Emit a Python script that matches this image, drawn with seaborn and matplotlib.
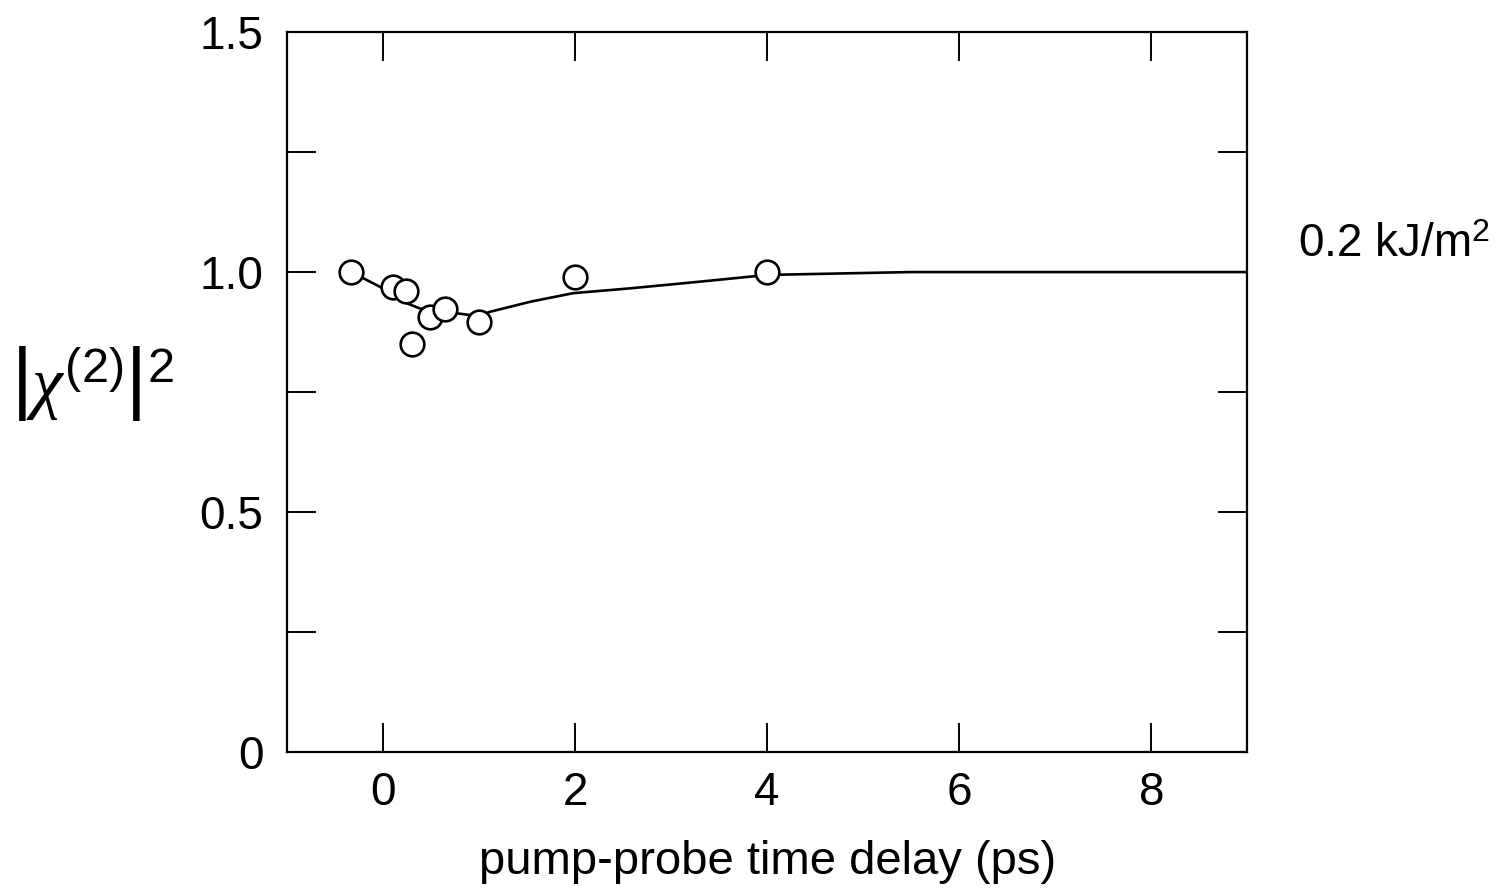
import numpy as np
import pandas as pd
import matplotlib
matplotlib.use('Agg')
import matplotlib.pyplot as plt
import seaborn as sns

# measured points (open circles)
delay_ps = [-0.33, 0.10, 0.24, 0.305, 0.49, 0.65, 1.0, 2.0, 4.0]
chi2_sq = [1.0, 0.969, 0.961, 0.851, 0.907, 0.924, 0.896, 0.99, 1.0]

# fitted curve
fit_x = [-0.33, -0.03, 0.21, 0.385, 0.77, 1.0, 1.11, 1.53, 1.98, 2.57, 3.3, 4.0, 5.5, 9.0]
fit_y = [1.0, 0.969, 0.938, 0.924, 0.914, 0.908, 0.917, 0.938, 0.956, 0.966, 0.98, 0.994, 1.0, 1.0]

yticks = [0, 0.25, 0.5, 0.75, 1.0, 1.25, 1.5]
ytick_labels = ['0', '', '0.5', '', '1.0', '', '1.5']
xticks = [0, 2, 4, 6, 8]

sns.set_style('white')
plt.rcParams['font.family'] = ['Liberation Sans', 'DejaVu Sans']
plt.rcParams['text.color'] = 'black'
plt.rcParams['mathtext.fontset'] = 'custom'
plt.rcParams['mathtext.rm'] = 'Liberation Sans'
plt.rcParams['mathtext.it'] = 'Liberation Serif:italic'

fig = plt.figure(figsize=(14.97, 8.91), dpi=100)
ax = fig.add_axes([0.1917, 0.156, 0.6416, 0.808])

df_fit = pd.DataFrame({'x': fit_x, 'y': fit_y})
df_pts = pd.DataFrame({'x': delay_ps, 'y': chi2_sq})

sns.lineplot(data=df_fit, x='x', y='y', ax=ax, color='black', linewidth=1.9, zorder=2)
sns.scatterplot(data=df_pts, x='x', y='y', ax=ax, marker='o', s=290,
                facecolor='white', edgecolor='black', linewidth=1.9, zorder=3)

ax.set_xlim(-1, 9)
ax.set_ylim(0, 1.5)
ax.set_xticks(xticks)
ax.set_xticklabels([str(t) for t in xticks])
ax.set_yticks(yticks)
ax.set_yticklabels(ytick_labels)
ax.tick_params(axis='x', pad=14)
ax.tick_params(axis='y', pad=17)
ax.tick_params(axis='both', which='major', direction='in', length=21, width=1.4,
               top=True, right=True, bottom=True, left=True,
               labelsize=33, colors='black', labelcolor='black')
for sp in ax.spines.values():
    sp.set_visible(True)
    sp.set_color('black')
    sp.set_linewidth(1.6)

ax.set_xlabel('pump-probe time delay (ps)', fontsize=34, labelpad=18, color='black')
ax.set_ylabel('')

fig.text(0.062, 0.57, r'$\left|\chi^{(2)}_{\;}\right|^2$', fontsize=50,
         ha='center', va='center', color='black')
fig.text(0.867, 0.725, r'0.2 kJ/m$^2$', fontsize=33, ha='left', va='center', color='black')

fig.savefig('out.png', dpi=100)
